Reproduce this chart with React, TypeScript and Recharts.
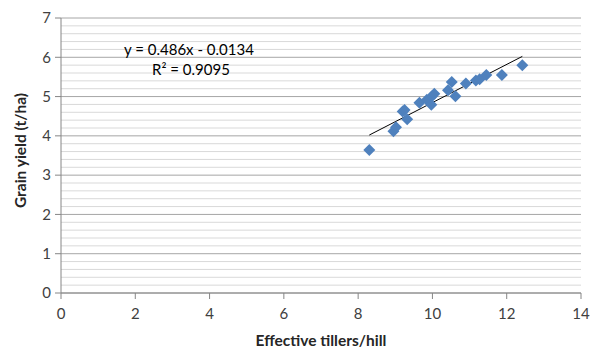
import React from 'react';
import { ScatterChart, Scatter, XAxis, YAxis, CartesianGrid, ReferenceLine } from 'recharts';

const tillers = [8.30, 8.95, 9.02, 9.20, 9.25, 9.32, 9.65, 9.85, 9.98, 10.05, 9.97, 10.42, 10.52, 10.62, 10.90, 11.17, 11.27, 11.45, 11.87, 12.42];
const yields = [3.64, 4.12, 4.22, 4.62, 4.66, 4.42, 4.84, 4.92, 5.00, 5.07, 4.79, 5.16, 5.37, 5.01, 5.33, 5.41, 5.44, 5.55, 5.55, 5.80];
const xTicks = [0, 2, 4, 6, 8, 10, 12, 14];
const yTicks = [0, 1, 2, 3, 4, 5, 6, 7];
const minorY = [0.2, 0.4, 0.6, 0.8, 1.2, 1.4, 1.6, 1.8, 2.2, 2.4, 2.6, 2.8, 3.2, 3.4, 3.6, 3.8, 4.2, 4.4, 4.6, 4.8, 5.2, 5.4, 5.6, 5.8, 6.2, 6.4, 6.6, 6.8];
const slope = 0.486;
const intercept = -0.0134;
const equationText = 'y = 0.486x - 0.0134';
const r2Text = 'R² = 0.9095';

const data = tillers.map((x, i) => ({ x, y: yields[i] }));
const xMin = Math.min(...tillers);
const xMax = Math.max(...tillers);
const trend = [
  { x: xMin, y: slope * xMin + intercept },
  { x: xMax, y: slope * xMax + intercept },
];

const Diamond = (props: any) => {
  const { cx, cy } = props;
  const r = 6;
  return (
    <polygon
      points={`${cx},${cy - r} ${cx + r},${cy} ${cx},${cy + r} ${cx - r},${cy}`}
      fill="#4F81BD"
    />
  );
};

const font = 'Lato, "Open Sans", sans-serif';

export default function App() {
  return (
    <div style={{ position: 'absolute', left: 0, top: 0, width: 592, height: 349, background: '#fff', fontFamily: font }}>
      <ScatterChart width={592} height={349} margin={{ top: 18, right: 11, bottom: 0, left: 0 }}>
        {minorY.map((v) => (
          <ReferenceLine key={v} y={v} stroke="#d9d9d9" strokeWidth={1} />
        ))}
        <CartesianGrid vertical={false} stroke="#a6a6a6" strokeDasharray="" />
        <XAxis
          type="number"
          dataKey="x"
          domain={[0, 14]}
          ticks={xTicks}
          height={56}
          tickSize={6}
          stroke="#868686"
          tick={{ fill: '#404040', fontSize: 15, fontFamily: font }}
          tickMargin={9}
          label={{ value: 'Effective tillers/hill', position: 'insideBottom', offset: 3, fill: '#262626', fontSize: 15.5, fontWeight: 'bold', fontFamily: font }}
        />
        <YAxis
          type="number"
          dataKey="y"
          domain={[0, 7]}
          ticks={yTicks}
          width={61}
          tickSize={6}
          stroke="#868686"
          tick={{ fill: '#404040', fontSize: 15, fontFamily: font }}
          tickMargin={4}
          label={{ value: 'Grain yield (t/ha)', angle: -90, position: 'center', dx: -10, dy: -5, fill: '#262626', fontSize: 15.5, fontWeight: 'bold', fontFamily: font }}
        />
        <ReferenceLine
          segment={[trend[0], trend[1]]}
          stroke="#000"
          strokeWidth={1}
          ifOverflow="visible"
        />
        <Scatter data={data} shape={<Diamond />} isAnimationActive={false} />
      </ScatterChart>
      <div style={{ position: 'absolute', left: 124, top: 40, fontSize: 15, color: '#000', whiteSpace: 'nowrap', lineHeight: '18px' }}>
        {equationText}
      </div>
      <div style={{ position: 'absolute', left: 152, top: 60, fontSize: 15, color: '#000', whiteSpace: 'nowrap', lineHeight: '18px' }}>
        {r2Text}
      </div>
    </div>
  );
}
